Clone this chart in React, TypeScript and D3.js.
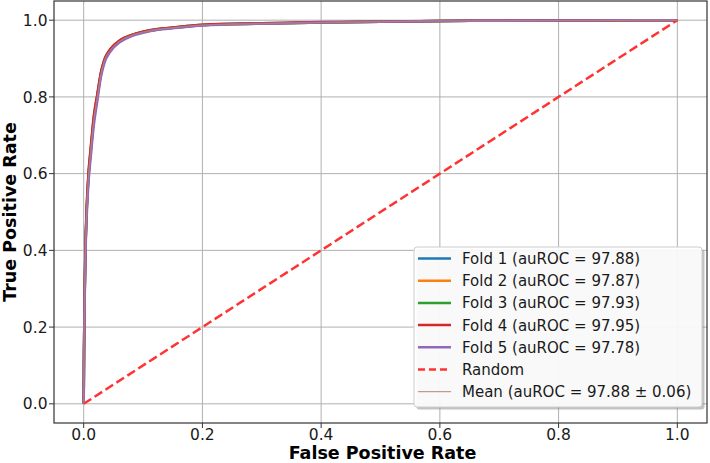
import React from 'react';
import * as d3 from 'd3';

// ROC curves (false positive rate on x)
const fpr = [0, 0.0005, 0.001, 0.002, 0.003, 0.005, 0.008, 0.012, 0.017, 0.023, 0.029, 0.035, 0.045, 0.062, 0.08, 0.1, 0.125, 0.15, 0.2, 0.3, 0.4, 0.5, 0.6, 0.7, 0.8, 0.9, 1.0];
const fold1 = [0, 0.12, 0.2, 0.32, 0.4, 0.5, 0.59, 0.66, 0.74, 0.8, 0.86, 0.895, 0.922, 0.947, 0.96, 0.969, 0.976, 0.98, 0.987, 0.991, 0.994, 0.996, 0.998, 0.9985, 0.999, 0.9995, 1];
const fold2 = [0, 0.12, 0.2, 0.31, 0.4, 0.5, 0.59, 0.66, 0.74, 0.8, 0.858, 0.894, 0.921, 0.947, 0.96, 0.969, 0.976, 0.98, 0.987, 0.991, 0.994, 0.996, 0.998, 0.9985, 0.999, 0.9995, 1];
const fold3 = [0, 0.125, 0.205, 0.325, 0.405, 0.505, 0.595, 0.665, 0.745, 0.805, 0.862, 0.897, 0.924, 0.948, 0.961, 0.97, 0.977, 0.981, 0.988, 0.992, 0.994, 0.996, 0.998, 0.9985, 0.999, 0.9995, 1];
const fold4 = [0, 0.125, 0.205, 0.325, 0.41, 0.51, 0.6, 0.67, 0.75, 0.808, 0.864, 0.898, 0.925, 0.949, 0.961, 0.97, 0.977, 0.981, 0.988, 0.992, 0.995, 0.996, 0.998, 0.9985, 0.999, 0.9995, 1];
const fold5 = [0, 0.11, 0.19, 0.3, 0.385, 0.485, 0.575, 0.645, 0.725, 0.79, 0.852, 0.889, 0.918, 0.944, 0.958, 0.967, 0.975, 0.979, 0.986, 0.991, 0.994, 0.996, 0.998, 0.9985, 0.999, 0.9995, 1];
const meanTpr = [0, 0.12, 0.2, 0.316, 0.4, 0.5, 0.59, 0.66, 0.74, 0.8, 0.859, 0.895, 0.922, 0.947, 0.96, 0.969, 0.976, 0.98, 0.987, 0.991, 0.994, 0.996, 0.998, 0.9985, 0.999, 0.9995, 1];

const foldNames = ['Fold 1', 'Fold 2', 'Fold 3', 'Fold 4', 'Fold 5'];
const foldAuc = ['97.88', '97.87', '97.93', '97.95', '97.78'];
const foldColors = ['#1f77b4', '#ff7f0e', '#2ca02c', '#d62728', '#9467bd'];
const meanLabel = 'Mean (auROC = 97.88 \u00b1 0.06)';
const tickValues = [0, 0.2, 0.4, 0.6, 0.8, 1.0];

const W = 710;
const H = 463;
const margin = { left: 54, right: 3, top: 1, bottom: 40 };
const FONT = 'DejaVu Sans, sans-serif';

export default function App() {
  const x = d3.scaleLinear().domain([-0.05, 1.05]).range([margin.left, W - margin.right]);
  const y = d3.scaleLinear().domain([-0.05, 1.05]).range([H - margin.bottom, margin.top]);

  const line = d3
    .line<number>()
    .x((_, i) => x(fpr[i]))
    .y((d) => y(d))
    .curve(d3.curveMonotoneX);

  const folds = [fold1, fold2, fold3, fold4, fold5];

  const x0 = margin.left;
  const x1 = W - margin.right;
  const y0 = H - margin.bottom;
  const y1 = margin.top;

  // legend
  const lg = { x: 414, y: 247, w: 288, h: 160 };
  const rowH = 22.2;
  const legendItems = [
    ...foldNames.map((n, i) => ({ label: `${n} (auROC = ${foldAuc[i]})`, color: foldColors[i], width: 2.5, dash: '' })),
    { label: 'Random', color: '#ff3333', width: 2.5, dash: '7,4' },
    { label: meanLabel, color: '#b5837a', width: 1, dash: '' },
  ];

  return (
    <svg width={W} height={H} style={{ position: 'absolute', left: 0, top: 0 }} fontFamily={FONT}>
      <rect width={W} height={H} fill="#fff" />
      {/* grid */}
      {tickValues.map((t) => (
        <g key={'g' + t}>
          <line x1={x(t)} x2={x(t)} y1={y0} y2={y1} stroke="#b0b0b0" strokeWidth={1} />
          <line x1={x0} x2={x1} y1={y(t)} y2={y(t)} stroke="#b0b0b0" strokeWidth={1} />
        </g>
      ))}

      {/* fold curves */}
      {folds.map((f, i) => (
        <path key={i} d={line(f) ?? ''} fill="none" stroke={foldColors[i]} strokeWidth={2.5} />
      ))}
      {/* chance line */}
      <line x1={x(0)} y1={y(0)} x2={x(1)} y2={y(1)} stroke="#ff3333" strokeWidth={2.5} strokeDasharray="9,4" />
      {/* mean curve */}
      <path d={line(meanTpr) ?? ''} fill="none" stroke="#b5837a" strokeWidth={1} />

      {/* spines */}
      <rect x={x0} y={y1} width={x1 - x0} height={y0 - y1} fill="none" stroke="#333" strokeWidth={1.2} />

      {/* ticks */}
      {tickValues.map((t) => (
        <g key={'t' + t}>
          <line x1={x(t)} x2={x(t)} y1={y0} y2={y0 + 5} stroke="#333" strokeWidth={1} />
          <text x={x(t)} y={439.8} fontSize={15.5} textAnchor="middle" fill="#1a1a1a">
            {d3.format('.1f')(t)}
          </text>
          <line x1={x0 - 5} x2={x0} y1={y(t)} y2={y(t)} stroke="#333" strokeWidth={1} />
          <text x={47.5} y={y(t) + 5.6} fontSize={15.5} textAnchor="end" fill="#1a1a1a">
            {d3.format('.1f')(t)}
          </text>
        </g>
      ))}

      {/* axis labels */}
      <text x={(x0 + x1) / 2 + 2} y={459.3} fontSize={17.5} fontWeight="bold" textAnchor="middle" fill="#000">
        False Positive Rate
      </text>
      <text transform={`translate(16,${(y0 + y1) / 2}) rotate(-90)`} fontSize={17.5} fontWeight="bold" textAnchor="middle" fill="#000">
        True Positive Rate
      </text>

      {/* legend */}
      <rect x={lg.x + 2.5} y={lg.y + 2.5} width={lg.w} height={lg.h} rx={3} fill="#888" opacity={0.5} />
      <rect x={lg.x} y={lg.y} width={lg.w} height={lg.h} rx={3} fill="#fff" fillOpacity={0.9} stroke="#ccc" strokeWidth={1} />
      {legendItems.map((it, i) => {
        const cy = lg.y + 11.5 + i * rowH;
        return (
          <g key={'l' + i}>
            <line x1={418} x2={451} y1={cy} y2={cy} stroke={it.color} strokeWidth={it.width} strokeDasharray={it.dash || undefined} />
            <text x={462} y={cy + 5.4} fontSize={15} fill="#1a1a1a">
              {it.label}
            </text>
          </g>
        );
      })}
    </svg>
  );
}
